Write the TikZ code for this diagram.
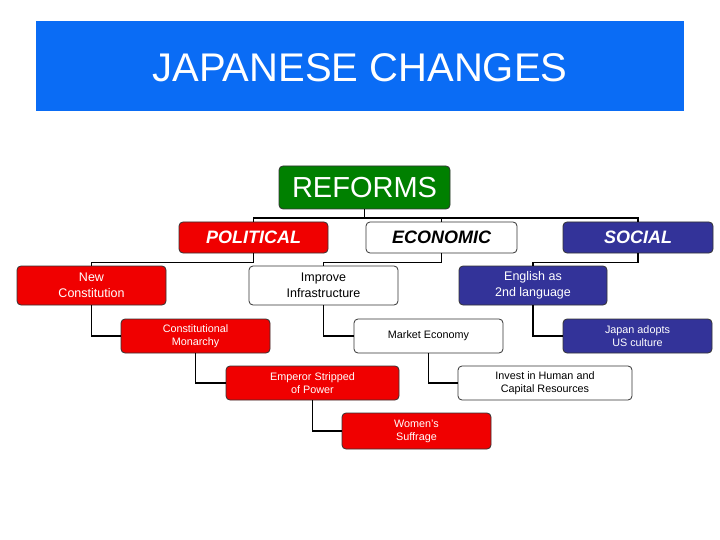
\documentclass[tikz,border=0pt]{standalone}
\usepackage{fontspec}
\setmainfont{Liberation Sans}
\definecolor{titleblue}{RGB}{10,108,245}
\definecolor{boxred}{RGB}{240,0,0}
\definecolor{boxnavy}{RGB}{51,51,153}
\definecolor{boxgreen}{RGB}{0,128,0}
\tikzset{
  box/.style={draw=black!80, line width=0.8pt, rounded corners=4pt, align=center, inner sep=0pt},
  redbox/.style={box, fill=boxred, text=white},
  navybox/.style={box, fill=boxnavy, text=white},
  whitebox/.style={box, fill=white, text=black},
  lvlone/.style={minimum width=150pt, minimum height=31pt, font=\fontsize{18}{20}\selectfont\bfseries\itshape},
  lvltwo/.style={minimum width=149pt, minimum height=39pt, font=\fontsize{12.5}{16}\selectfont},
  lvlthree/.style={minimum width=149pt, minimum height=34pt, font=\fontsize{10.8}{13}\selectfont},
  conn/.style={draw=black, line width=1.8pt}
}
\begin{document}
\begin{tikzpicture}[x=1pt,y=-1pt]
\useasboundingbox (0,0) rectangle (720,540);
\fill[white] (0,0) rectangle (720,540);
\node[fill=titleblue, text=white, minimum width=648pt, minimum height=90pt, inner sep=0pt] (title) at (360,66) {};
\node[text=white, inner sep=0pt, font=\fontsize{40}{44}\selectfont] (ttext) at (360,68) {JAPANESE CHANGES};
\node[box, fill=boxgreen, text=white, minimum width=171pt, minimum height=43pt,
  font=\fontsize{29}{32}\selectfont] (reforms) at (364.5,187.5) {REFORMS};
% level 1
\node[redbox, lvlone, minimum width=149pt] (pol) at (253.5,237.5) {POLITICAL};
\node[whitebox, lvlone, minimum width=151pt] (eco) at (441.5,237.5) {ECONOMIC};
\node[navybox, lvlone] (soc) at (638,237.5) {SOCIAL};
% level 2
\node[redbox, lvltwo] (newc) at (91.5,285.5) {New\\Constitution};
\node[whitebox, lvltwo] (infra) at (323.5,285.5) {Improve\\Infrastructure};
\node[navybox, lvltwo, minimum width=148pt] (eng) at (533,285.5) {English as\\2nd language};
% level 3
\node[redbox, lvlthree] (cmon) at (195.5,336) {Constitutional\\Monarchy};
\node[whitebox, lvlthree] (mkt) at (428.5,336) {Market Economy};
\node[navybox, lvlthree] (jap) at (637.5,336) {Japan adopts\\US culture};
% level 4
\node[redbox, lvlthree, minimum width=173pt] (emp) at (312.5,383) {Emperor Stripped\\of Power};
\node[whitebox, lvlthree, minimum width=174pt] (inv) at (545,383) {Invest in Human and\\Capital Resources};
% level 5
\node[redbox, lvlthree, minimum height=36pt] (wom) at (416.5,431) {Women's\\Suffrage};
% connectors
\coordinate (j) at (364.5,218);
\draw[conn] (reforms.south) -- (j);
\draw[conn] (pol.north) |- (j) -| (soc.north);
\draw[conn] (eco.north) -- (eco.north |- j);
\draw[conn] (pol.south) -- ++(0,9) -| (newc.north);
\draw[conn] (eco.south) -- ++(0,9) -| (infra.north);
\draw[conn] (soc.south) -- ++(0,9) -| (eng.north);
\draw[conn] (newc.south) |- (cmon.west);
\draw[conn] (infra.south) |- (mkt.west);
\draw[conn] (eng.south) |- (jap.west);
\draw[conn] (cmon.south) |- (emp.west);
\draw[conn] (mkt.south) |- (inv.west);
\draw[conn] (emp.south) |- (wom.west);
\end{tikzpicture}
\end{document}
